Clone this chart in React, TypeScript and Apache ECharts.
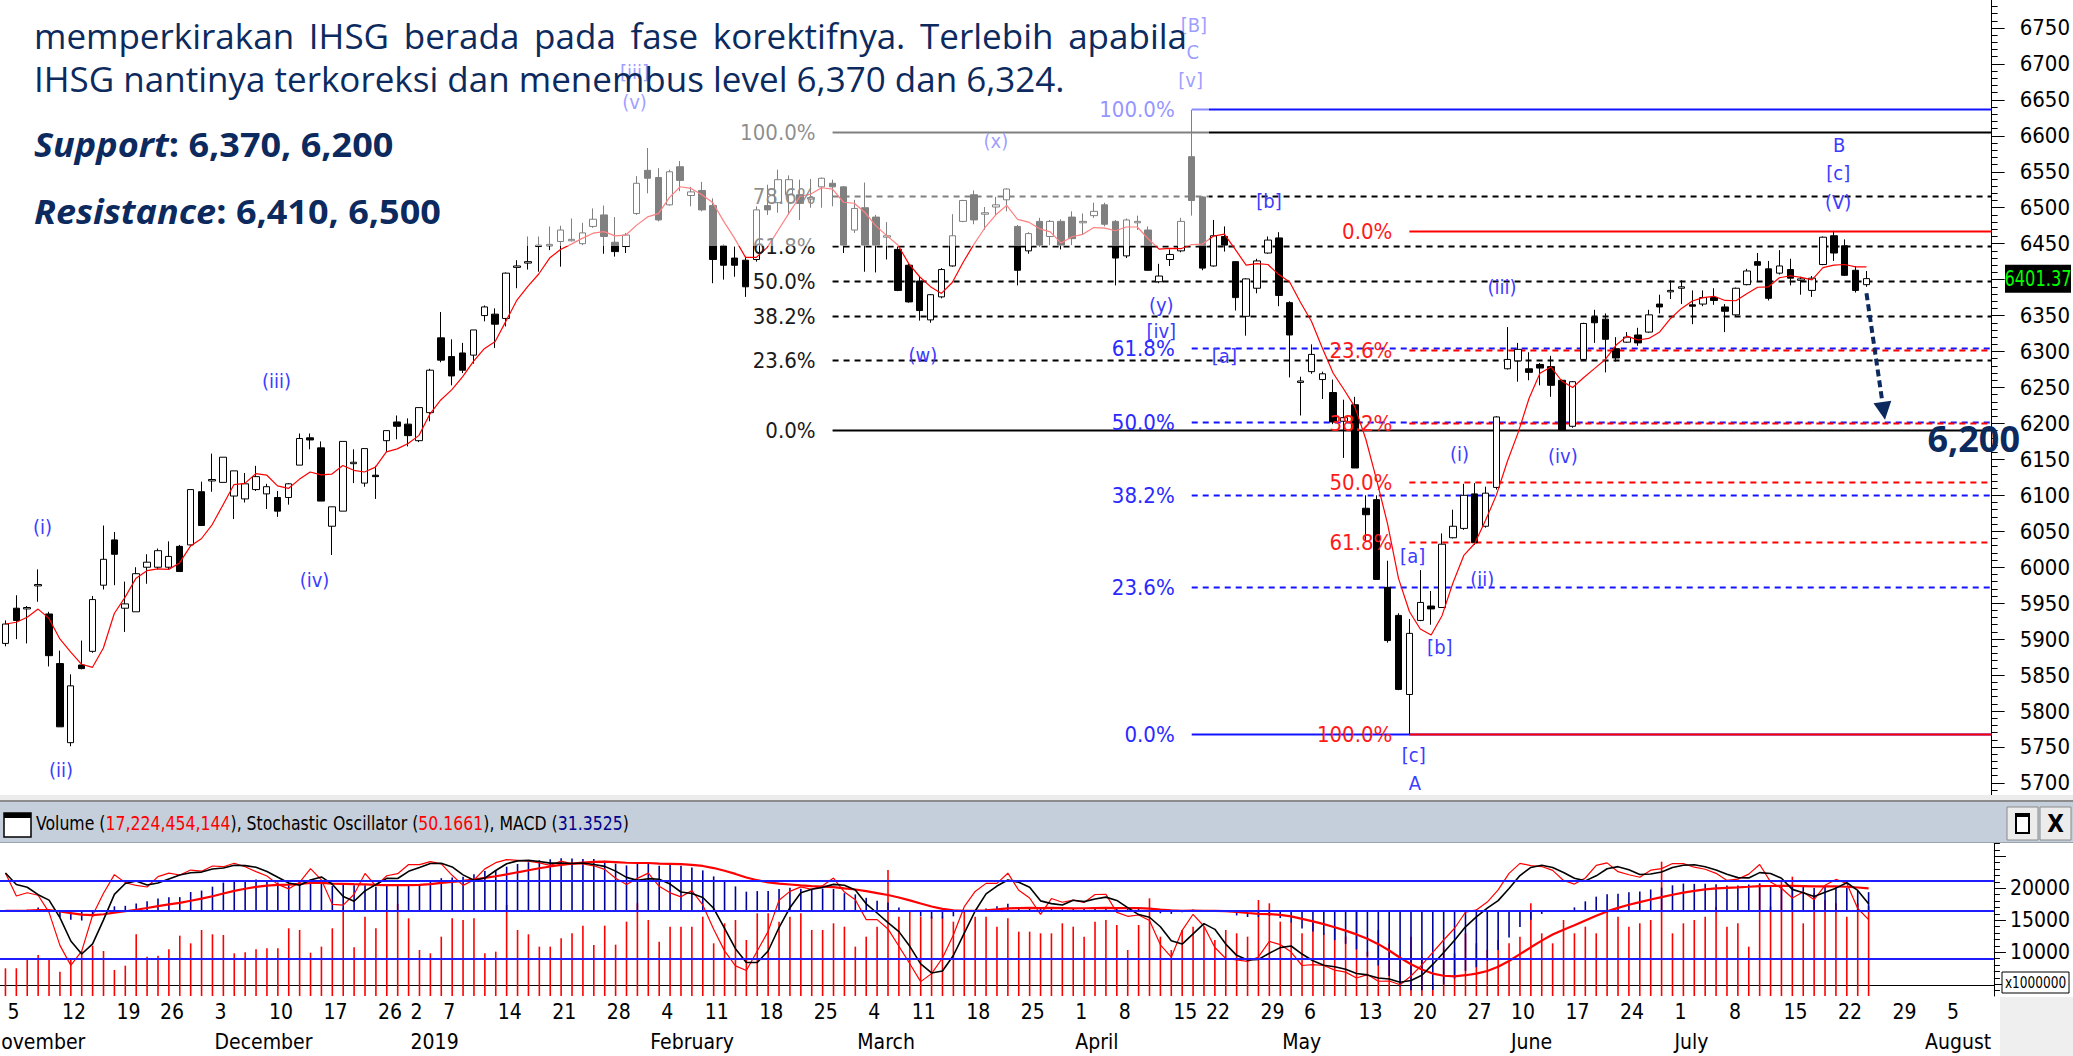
import React, { useEffect, useRef } from 'react';
import * as echarts from 'echarts';

const NARROW = "'Liberation Sans Narrow', 'Arial Narrow', 'DejaVu Sans Condensed', sans-serif";
const SANS = "'Open Sans', 'Noto Sans', sans-serif";
const NAVY = '#0c2a5e';
const EW = '#3c3cff';

const HOLIDAYS = ['2018-11-20', '2018-12-24', '2018-12-25', '2018-12-31', '2019-01-01', '2019-02-05', '2019-03-07', '2019-04-03', '2019-04-17', '2019-04-19', '2019-05-01', '2019-05-30', '2019-06-03', '2019-06-04', '2019-06-05', '2019-06-06', '2019-06-07'];
const MONTH_NAMES = ['2019', 'February', 'March', 'April', 'May', 'June', 'July', 'August', 'September', 'October', 'November', 'December'];

const OPEN = [5894,5943,5942,5974,5935,5866,5756,5864,5883,5975,6038,5943,5938,6000,6000,6000,6029,6031,6105,6120,6118,6099,6095,6108,6102,6097,6097,6142,6180,6166,6057,6078,6144,6117,6128,6176,6202,6199,6176,6215,6319,6293,6298,6295,6350,6352,6346,6417,6423,6446,6447,6453,6454,6450,6474,6490,6452,6446,6492,6552,6542,6504,6557,6517,6524,6503,6447,6430,6427,6428,6503,6507,6518,6518,6512,6529,6534,6529,6469,6500,6487,6459,6442,6420,6398,6344,6376,6419,6481,6518,6491,6501,6511,6474,6440,6481,6460,6481,6487,6479,6489,6504,6481,6433,6479,6469,6397,6428,6440,6571,6515,6419,6460,6425,6349,6388,6437,6458,6368,6257,6272,6261,6243,6203,6226,6082,6094,5972,5933,5823,5926,5946,5944,6041,6054,6102,6057,6111,6276,6287,6276,6282,6279,6260,6196,6289,6348,6345,6304,6313,6323,6327,6366,6383,6388,6365,6366,6375,6362,6351,6393,6425,6415,6409,6414,6399,6385,6421,6461,6447,6413,6393];
const CLOSE = [5921,5926,5944,5976,5877,5778,5835,5859,5955,6011,6018,5949,5991,6007,6023,6015,5994,6108,6058,6122,6153,6134,6116,6126,6112,6078,6116,6179,6177,6092,6084,6175,6146,6165,6126,6190,6196,6183,6222,6274,6288,6266,6274,6330,6362,6338,6409,6419,6425,6448,6449,6469,6456,6465,6484,6460,6439,6462,6534,6541,6483,6550,6538,6522,6497,6428,6420,6420,6390,6497,6497,6539,6539,6506,6514,6541,6529,6448,6499,6448,6448,6461,6385,6369,6357,6379,6414,6461,6510,6483,6493,6504,6526,6413,6464,6448,6481,6448,6457,6481,6495,6477,6430,6483,6481,6413,6405,6435,6481,6510,6416,6461,6448,6375,6401,6426,6455,6378,6323,6259,6296,6269,6202,6208,6138,6073,5983,5898,5830,5908,5951,5942,6032,6057,6100,6034,6103,6209,6289,6303,6271,6277,6253,6191,6258,6339,6340,6317,6291,6320,6312,6351,6362,6385,6390,6363,6375,6371,6356,6388,6412,6420,6374,6419,6402,6401,6402,6459,6437,6406,6385,6401.37];
const LOW = [5890,5900,5894,5952,5862,5778,5751,5858,5881,5969,5975,5910,5938,5977,5997,5997,5994,6029,6058,6105,6118,6067,6090,6106,6081,6070,6087,6142,6164,6092,6017,6078,6117,6112,6095,6160,6178,6168,6174,6203,6285,6253,6270,6283,6342,6305,6335,6388,6414,6411,6441,6418,6453,6448,6472,6436,6432,6437,6490,6520,6481,6503,6523,6502,6495,6395,6400,6404,6376,6425,6490,6493,6490,6483,6500,6500,6502,6437,6465,6411,6410,6428,6384,6368,6343,6340,6374,6418,6480,6477,6469,6489,6495,6392,6436,6446,6448,6442,6448,6463,6486,6474,6392,6430,6469,6412,6395,6419,6438,6489,6413,6418,6439,6357,6322,6381,6436,6363,6264,6211,6269,6234,6199,6152,6138,6035,5983,5895,5829,5768,5925,5920,5944,6040,6052,6031,6055,6108,6275,6258,6260,6253,6237,6190,6194,6288,6312,6271,6286,6312,6308,6326,6353,6373,6366,6338,6363,6365,6327,6349,6392,6397,6371,6407,6392,6379,6376,6420,6426,6405,6382,6390];
const HIGH = [5926,5961,5946,5997,5938,5884,5851,5898,5960,6058,6049,5980,6000,6018,6026,6036,6031,6108,6119,6158,6153,6134,6131,6141,6116,6106,6117,6186,6186,6175,6084,6175,6164,6165,6141,6190,6211,6207,6222,6276,6355,6317,6312,6330,6364,6360,6410,6427,6460,6460,6474,6475,6485,6479,6499,6503,6487,6465,6544,6583,6555,6553,6565,6529,6536,6513,6449,6446,6432,6502,6532,6553,6545,6539,6540,6542,6539,6530,6511,6535,6490,6480,6446,6422,6404,6380,6416,6491,6511,6524,6501,6515,6527,6476,6466,6486,6483,6484,6495,6492,6507,6507,6483,6485,6489,6474,6422,6442,6486,6636,6516,6483,6474,6425,6402,6429,6460,6466,6370,6265,6310,6272,6261,6233,6237,6100,6100,6009,5936,5928,5996,5967,6047,6080,6116,6117,6112,6210,6334,6312,6299,6284,6294,6261,6259,6340,6358,6353,6320,6327,6333,6358,6379,6399,6399,6385,6385,6388,6366,6389,6415,6437,6426,6441,6429,6404,6405,6460,6467,6456,6419,6412];
// volume in millions of shares
const VOLUME = [7497,7497,8799,9578,8799,6976,9059,10205,11038,10205,7237,7914,12810,9320,9476,10465,12601,11403,13486,12810,12705,9841,9997,10465,10622,10622,13747,13486,9945,10882,13747,16872,10778,15570,13747,16351,17549,15309,10362,9841,12444,15309,15049,15309,9841,10101,17393,13486,12810,10882,10882,12184,12966,14164,11142,14164,11194,14788,17653,15049,11663,14007,14007,14007,15570,11403,14528,15049,11924,16091,16091,14788,15570,16091,13486,13486,14528,14007,10882,12444,14007,22861,15570,16351,15570,15570,15570,14788,16351,15570,15570,14007,15309,13226,13226,12966,12966,14528,14007,12444,14788,15049,14267,10362,14267,18434,12444,10362,13486,14007,14007,11924,13486,12966,12444,18173,17653,14788,14788,12966,14528,12966,14007,12444,16612,10101,13486,11403,9320,12444,9320,5153,10882,9841,12966,11403,10362,11924,11403,12444,17653,12966,11403,15049,12966,14007,12966,16351,15570,14007,14528,15049,24162,12966,14528,15049,15570,17131,14007,14528,10882,20777,17131,21298,21819,14528,19215,18173,17653,15570,17653,17224];

const PRICE_TICKS = [5700,5750,5800,5850,5900,5950,6000,6050,6100,6150,6200,6250,6300,6350,6400,6450,6500,6550,6600,6650,6700,6750];
const VOL_LABELS = [10000, 15000, 20000];
const VOL_MAJOR = [5000, 10000, 15000, 20000, 25000];

// Fibonacci sets: anchor candle index, low, high, direction
const FIB_BLACK = { from: 76, lo: 6191, hi: 6605, up: true, ratios: [100, 78.6, 61.8, 50, 38.2, 23.6, 0], line: '#000000', text: '#1a1a1a' };
const FIB_BLUE = { from: 109, lo: 5768, hi: 6637, up: true, ratios: [100, 61.8, 50, 38.2, 23.6, 0], line: '#1414ff', text: '#2a2aff' };
const FIB_RED = { from: 129, lo: 5768, hi: 6468, up: false, ratios: [0, 23.6, 38.2, 50, 61.8, 100], line: '#ff0000', text: '#ff1a1a' };

// Elliott wave labels: [text, candle index, price]
const WAVES: [string, number, number][] = [
  ['(i)', 3.4, 6056], ['(ii)', 5.1, 5718], ['(iii)', 24.9, 6259], ['(iv)', 28.4, 5982],
  ['[iii]', 57.8, 6689], ['(v)', 57.8, 6647], ['(x)', 91, 6593], ['(w)', 84.3, 6295],
  ['(y)', 106.2, 6365], ['[iv]', 106.2, 6329], ['[a]', 112, 6294], ['[b]', 116.1, 6509],
  ['[B]', 109.2, 6754], ['C', 109.1, 6717], ['[v]', 108.9, 6678],
  ['[a]', 129.3, 6016], ['[b]', 131.8, 5889], ['[c]', 129.4, 5739], ['A', 129.5, 5700],
  ['(i)', 133.6, 6157], ['(ii)', 135.7, 5984], ['(iii)', 137.5, 6390], ['(iv)', 143.1, 6155],
  ['B', 168.5, 6587], ['[c]', 168.4, 6548], ['(V)', 168.4, 6508],
];
const ARROW_FROM: [number, number] = [171, 6381];
const ARROW_TO: [number, number] = [172.7, 6205];
const LAST_PRICE = 6401.37;

// calendar of trading days
const DATES: string[] = [];
for (let t = Date.UTC(2018, 10, 5); DATES.length < 183; t += 86400000) {
  const d = new Date(t);
  const wd = d.getUTCDay();
  const s = d.toISOString().slice(0, 10);
  if (wd === 0 || wd === 6 || HOLIDAYS.includes(s)) continue;
  DATES.push(s);
}
const weekNo = (s: string) => Math.floor((Date.parse(s) / 86400000 + 3) / 7);
const WEEK_START = DATES.map((s, i) => i === 0 || weekNo(s) !== weekNo(DATES[i - 1]));
const MONTH_START = DATES.map((s, i) => i > 0 && s.slice(5, 7) !== DATES[i - 1].slice(5, 7));

// indicators derived from the price data
const sma = (a: number[], n: number) => a.map((_, i) => { const s = a.slice(Math.max(0, i - n + 1), i + 1); return s.reduce((x, y) => x + y, 0) / s.length; });
const ema = (a: number[], n: number) => { const k = 2 / (n + 1); const o: number[] = []; a.forEach((v, i) => o.push(i ? v * k + o[i - 1] * (1 - k) : v)); return o; };
const MA = sma(CLOSE, 5);
const E12 = ema(CLOSE, 12), E26 = ema(CLOSE, 26);
const MACD = CLOSE.map((_, i) => E12[i] - E26[i]);
const SIGNAL = ema(MACD, 9);
const RAWK = CLOSE.map((c, i) => {
  const lo = Math.min(...LOW.slice(Math.max(0, i - 13), i + 1));
  const hi = Math.max(...HIGH.slice(Math.max(0, i - 13), i + 1));
  return hi > lo ? ((c - lo) / (hi - lo)) * 100 : 50;
});
const STOCH_K = sma(RAWK, 3);
const STOCH_D = sma(STOCH_K, 3);

const PMIN = 5683.2, PMAX = 6788.9;

function buildOption(): any {
  const minor: number[] = [];
  for (let v = 5690; v <= 6780; v += 10) if (v % 50 !== 0) minor.push(v);
  const volMinor: number[] = [];
  for (let v = 4000; v <= 27000; v += 1000) if (v % 5000 !== 0) volMinor.push(v);
  const monthLabel = (s: string) => { const m = +s.slice(5, 7); return m === 1 ? '2019' : MONTH_NAMES[m - 1]; };
  const plain = (v: number) => String(Math.round(v));
  return {
    animation: false,
    backgroundColor: '#ffffff',
    grid: [
      { left: -3, right: 74, top: 0, height: 795 },
      { left: -3, right: 74, top: 843, height: 153 },
    ],
    xAxis: [
      { type: 'category', gridIndex: 0, data: DATES, show: false },
      {
        type: 'category', gridIndex: 1, data: DATES, position: 'bottom',
        axisLine: { lineStyle: { color: '#000', width: 1 } },
        axisTick: { interval: (i: number) => WEEK_START[i] || MONTH_START[i], length: 30, alignWithLabel: true, lineStyle: { color: '#000' } },
        axisLabel: { interval: (i: number) => WEEK_START[i], formatter: (v: string) => String(+v.slice(8)), align: 'left', margin: 5, padding: [0, 0, 0, 2], fontSize: 21, fontFamily: NARROW, color: '#000' },
        splitLine: { show: false },
      },
      {
        type: 'category', gridIndex: 1, data: DATES, position: 'bottom', offset: 30,
        axisLine: { lineStyle: { color: '#000', width: 1 } },
        axisTick: { interval: (i: number) => MONTH_START[i], length: 30, alignWithLabel: true, lineStyle: { color: '#000' } },
        axisLabel: { interval: (i: number) => MONTH_START[i], formatter: (v: string) => monthLabel(v), align: 'left', margin: 5, padding: [0, 0, 0, 2], fontSize: 21, fontFamily: NARROW, color: '#000' },
        splitLine: { show: false },
      },
    ],
    yAxis: [
      {
        type: 'value', gridIndex: 0, position: 'right', min: PMIN, max: PMAX,
        axisLine: { show: true, lineStyle: { color: '#000' } }, splitLine: { show: false },
        axisTick: { show: true, customValues: PRICE_TICKS, length: 13, lineStyle: { color: '#000' } },
        axisLabel: { customValues: PRICE_TICKS, formatter: plain, margin: 28, fontSize: 22, fontFamily: NARROW, color: '#000' },
      },
      {
        type: 'value', gridIndex: 0, position: 'right', min: PMIN, max: PMAX,
        axisLine: { show: false }, splitLine: { show: false },
        axisTick: { show: true, customValues: minor, length: 6, lineStyle: { color: '#000' } },
        axisLabel: { show: false },
      },
      {
        type: 'value', gridIndex: 1, position: 'right', min: 3172, max: 27078,
        axisLine: { show: true, lineStyle: { color: '#000' } }, splitLine: { show: false },
        axisTick: { show: true, customValues: VOL_MAJOR, length: 12, lineStyle: { color: '#000' } },
        axisLabel: { customValues: VOL_LABELS, formatter: plain, margin: 16, fontSize: 21, fontFamily: NARROW, color: '#000' },
      },
      {
        type: 'value', gridIndex: 1, position: 'right', min: 3172, max: 27078,
        axisLine: { show: false }, splitLine: { show: false },
        axisTick: { show: true, customValues: volMinor, length: 6, lineStyle: { color: '#000' } },
        axisLabel: { show: false },
      },
      { type: 'value', gridIndex: 1, min: -8.46, max: 109.2, show: false },
      { type: 'value', gridIndex: 1, min: -148, max: 118.3, show: false },
    ],
    series: [
      {
        type: 'candlestick', xAxisIndex: 0, yAxisIndex: 0, barWidth: 7,
        data: OPEN.map((o, i) => [o, CLOSE[i], LOW[i], HIGH[i]]),
        itemStyle: { color: '#ffffff', color0: '#000000', borderColor: '#000000', borderColor0: '#000000', borderWidth: 1 },
      },
      {
        type: 'line', xAxisIndex: 0, yAxisIndex: 0, data: MA, showSymbol: false, z: 3,
        lineStyle: { color: '#ff0000', width: 1.2 },
      },
      {
        type: 'bar', xAxisIndex: 1, yAxisIndex: 2, data: VOLUME, barWidth: 1.6, barGap: '-100%', clip: true,
        itemStyle: { color: '#ff0000' },
      },
      {
        type: 'bar', xAxisIndex: 1, yAxisIndex: 5, data: MACD, barWidth: 1.6, barGap: '-100%', clip: true,
        itemStyle: { color: '#00009c' },
        markLine: { silent: true, symbol: 'none', label: { show: false }, lineStyle: { color: '#1c1cff', width: 2, type: 'solid' }, data: [{ yAxis: 0 }] },
      },
      {
        type: 'line', xAxisIndex: 1, yAxisIndex: 5, data: SIGNAL, showSymbol: false,
        lineStyle: { color: '#ff0000', width: 2.2 },
      },
      {
        type: 'line', xAxisIndex: 1, yAxisIndex: 4, data: STOCH_K, showSymbol: false,
        lineStyle: { color: '#ff0000', width: 1.2 },
        markLine: { silent: true, symbol: 'none', label: { show: false }, lineStyle: { color: '#1c1cff', width: 2, type: 'solid' }, data: [{ yAxis: 80 }, { yAxis: 20 }] },
      },
      {
        type: 'line', xAxisIndex: 1, yAxisIndex: 4, data: STOCH_D, showSymbol: false,
        lineStyle: { color: '#000000', width: 1.6 },
      },
    ],
  };
}

function buildGraphics(chart: any): any[] {
  const x0 = chart.convertToPixel({ gridIndex: 0 }, [0, 6000])[0];
  const x1 = chart.convertToPixel({ gridIndex: 0 }, [1, 6000])[0];
  const slot = x1 - x0;
  const xAt = (i: number) => x0 + i * slot;
  const yAt = (v: number) => chart.convertToPixel({ gridIndex: 0 }, [0, v])[1];
  const right = xAt(182) + slot / 2;
  const g: any[] = [];

  const fib = (f: any) => {
    const xs = xAt(f.from);
    f.ratios.forEach((r: number) => {
      const v = f.up ? f.lo + (r / 100) * (f.hi - f.lo) : f.hi - (r / 100) * (f.hi - f.lo);
      const y = Math.round(yAt(v)) + 0.5;
      const solid = r === 0 || r === 100;
      g.push({ type: 'line', z: 1, silent: true, shape: { x1: xs, y1: y, x2: right, y2: y }, style: { stroke: f.line, lineWidth: 2, lineDash: solid ? null : [6, 5] } });
      g.push({ type: 'text', z: 5, silent: true, x: xs - 17, y, style: { text: r.toFixed(1) + '%', fill: f.text, font: `22px ${NARROW}`, textAlign: 'right', textVerticalAlign: 'middle' } });
    });
  };
  fib(FIB_BLACK);
  fib(FIB_BLUE);
  fib(FIB_RED);

  WAVES.forEach(([t, i, v]) => {
    g.push({ type: 'text', z: 5, silent: true, x: xAt(i), y: yAt(v), style: { text: t, fill: EW, font: `20px ${NARROW}`, textAlign: 'center', textVerticalAlign: 'middle' } });
  });

  // projection arrow
  const ax1 = xAt(ARROW_FROM[0]), ay1 = yAt(ARROW_FROM[1]);
  const ax2 = xAt(ARROW_TO[0]), ay2 = yAt(ARROW_TO[1]);
  const len = Math.hypot(ax2 - ax1, ay2 - ay1);
  const ux = (ax2 - ax1) / len, uy = (ay2 - ay1) / len;
  const bx = ax2 - ux * 18, by = ay2 - uy * 18;
  g.push({ type: 'line', z: 6, silent: true, shape: { x1: ax1, y1: ay1, x2: bx, y2: by }, style: { stroke: NAVY, lineWidth: 4, lineDash: [7, 4] } });
  g.push({ type: 'polygon', z: 6, silent: true, shape: { points: [[ax2, ay2], [bx - uy * 9, by + ux * 9], [bx + uy * 9, by - ux * 9]] }, style: { fill: NAVY } });
  g.push({ type: 'text', z: 6, silent: true, x: xAt(176.6), y: yAt(6179), style: { text: '6,200', fill: NAVY, font: `bold 36px ${SANS}`, textAlign: 'left', textVerticalAlign: 'middle' } });

  // last price badge
  const py = yAt(LAST_PRICE);
  g.push({ type: 'rect', z: 10, silent: true, shape: { x: 2005, y: py - 14, width: 66, height: 28 }, style: { fill: '#000' } });
  g.push({ type: 'text', z: 11, silent: true, x: 2038, y: py, scaleX: 0.86, style: { text: LAST_PRICE.toFixed(2), fill: '#00ff00', font: `21px ${NARROW}`, textAlign: 'center', textVerticalAlign: 'middle' } });

  // translucent text box
  g.push({ type: 'rect', z: 20, silent: true, shape: { x: 0, y: 0, width: 1209, height: 246 }, style: { fill: 'rgba(255,255,255,0.5)' } });

  const bodyFont = `35px ${SANS}`;
  const ctx = document.createElement('canvas').getContext('2d')!;
  ctx.font = bodyFont;
  const words = ['memperkirakan', 'IHSG', 'berada', 'pada', 'fase', 'korektifnya.', 'Terlebih', 'apabila'];
  const widths = words.map((w) => ctx.measureText(w).width);
  const gap = (1187 - 34 - widths.reduce((a, b) => a + b, 0)) / (words.length - 1);
  let cx = 34;
  words.forEach((w, k) => {
    g.push({ type: 'text', z: 30, silent: true, x: cx, y: 35, style: { text: w, fill: NAVY, font: bodyFont, textAlign: 'left', textVerticalAlign: 'middle' } });
    cx += widths[k] + gap;
  });
  g.push({ type: 'text', z: 30, silent: true, x: 34, y: 78, style: { text: 'IHSG nantinya terkoreksi dan menembus level 6,370 dan 6,324.', fill: NAVY, font: bodyFont, textAlign: 'left', textVerticalAlign: 'middle' } });
  const rich = {
    i: { fontStyle: 'italic', fontWeight: 'bold', fontSize: 34, fontFamily: SANS, fill: NAVY },
    b: { fontWeight: 'bold', fontSize: 34, fontFamily: SANS, fill: NAVY },
  };
  g.push({ type: 'text', z: 30, silent: true, x: 34, y: 144, scaleX: 1.06, style: { text: '{i|Support}{b|: 6,370, 6,200}', rich, textAlign: 'left', textVerticalAlign: 'middle' } });
  g.push({ type: 'text', z: 30, silent: true, x: 34, y: 211, scaleX: 1.06, style: { text: '{i|Resistance}{b|: 6,410, 6,500}', rich, textAlign: 'left', textVerticalAlign: 'middle' } });

  // panel chrome
  g.push({ type: 'rect', z: 40, silent: true, shape: { x: 0, y: 795, width: 2073, height: 5 }, style: { fill: '#ececec' } });
  g.push({ type: 'rect', z: 40, silent: true, shape: { x: 0, y: 800, width: 2073, height: 2 }, style: { fill: '#8c8c8c' } });
  g.push({ type: 'rect', z: 40, silent: true, shape: { x: 0, y: 802, width: 2073, height: 41 }, style: { fill: '#c4cfdb' } });
  g.push({ type: 'rect', z: 40, silent: true, shape: { x: 0, y: 842, width: 2073, height: 1 }, style: { fill: '#9aa4ae' } });
  g.push({ type: 'rect', z: 41, silent: true, shape: { x: 4, y: 813, width: 27, height: 24 }, style: { fill: '#fff', stroke: '#000', lineWidth: 1.5 } });
  g.push({ type: 'rect', z: 42, silent: true, shape: { x: 4, y: 813, width: 27, height: 5 }, style: { fill: '#000' } });
  g.push({
    type: 'text', z: 42, silent: true, x: 36, y: 823, scaleX: 0.92,
    style: {
      text: '{k|Volume (}{r|17,224,454,144}{k|), Stochastic Oscillator (}{r|50.1661}{k|), MACD (}{b|31.3525}{k|)}',
      rich: {
        k: { fill: '#000', fontSize: 19, fontFamily: NARROW },
        r: { fill: '#ff0000', fontSize: 19, fontFamily: NARROW },
        b: { fill: '#00008b', fontSize: 19, fontFamily: NARROW },
      },
      textAlign: 'left', textVerticalAlign: 'middle',
    },
  });
  [2007, 2040].forEach((bx2, k) => {
    g.push({ type: 'rect', z: 41, silent: true, shape: { x: bx2, y: 807, width: 31, height: 33 }, style: { fill: '#ececec', stroke: '#8a8a8a', lineWidth: 1 } });
    if (k === 0) {
      g.push({ type: 'rect', z: 42, silent: true, shape: { x: bx2 + 9, y: 814, width: 13, height: 19 }, style: { fill: '#fff', stroke: '#000', lineWidth: 2 } });
      g.push({ type: 'rect', z: 42, silent: true, shape: { x: bx2 + 9, y: 814, width: 13, height: 3 }, style: { fill: '#000' } });
    } else {
      g.push({ type: 'text', z: 42, silent: true, x: bx2 + 15.5, y: 824, style: { text: 'X', fill: '#000', font: `bold 24px ${NARROW}`, textAlign: 'center', textVerticalAlign: 'middle' } });
    }
  });
  g.push({ type: 'rect', z: 40, silent: true, shape: { x: 2000, y: 997, width: 73, height: 59 }, style: { fill: '#efefef' } });
  g.push({ type: 'rect', z: 41, silent: true, shape: { x: 2002, y: 972, width: 67, height: 21 }, style: { fill: '#fff', stroke: '#000', lineWidth: 1 } });
  g.push({ type: 'text', z: 42, silent: true, x: 2035.5, y: 983, scaleX: 0.9, style: { text: 'x1000000', fill: '#000', font: `15px ${NARROW}`, textAlign: 'center', textVerticalAlign: 'middle' } });
  g.push({ type: 'text', z: 42, silent: true, x: -13, y: 1042, style: { text: 'November', fill: '#000', font: `21px ${NARROW}`, textAlign: 'left', textVerticalAlign: 'middle' } });
  return g;
}

export default function App() {
  const ref = useRef<HTMLDivElement>(null);
  useEffect(() => {
    document.body.style.margin = '0';
    const chart = echarts.init(ref.current!, null, { renderer: 'svg' });
    chart.setOption(buildOption());
    chart.setOption({ graphic: buildGraphics(chart) });
    return () => chart.dispose();
  }, []);
  return <div ref={ref} style={{ width: 2073, height: 1056 }} />;
}
